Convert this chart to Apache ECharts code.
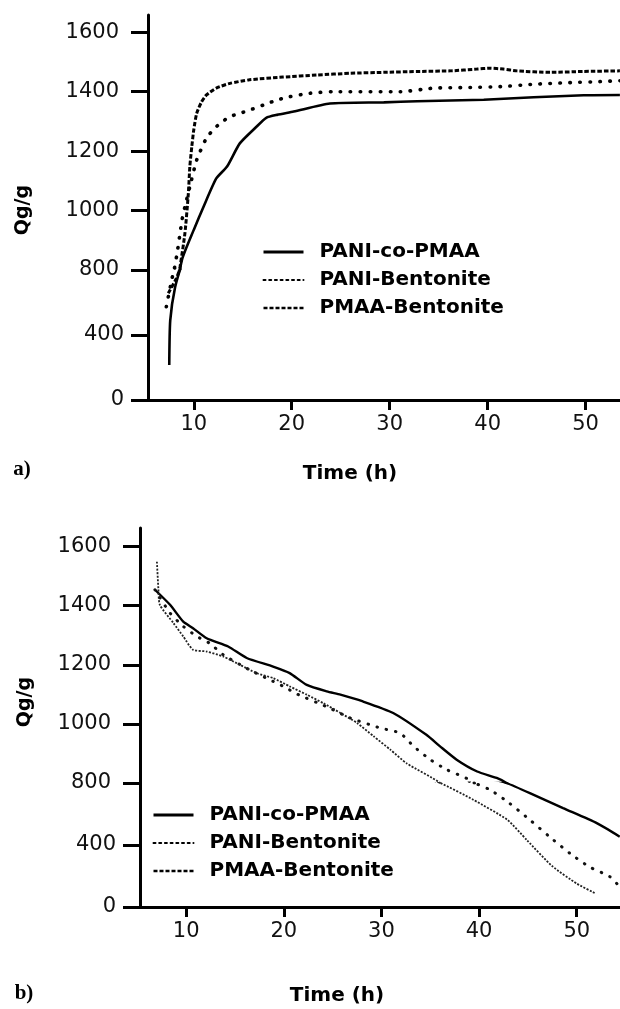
<!DOCTYPE html>
<html>
<head>
<meta charset="utf-8">
<script src="https://cdn.jsdelivr.net/npm/echarts@6/dist/echarts.min.js"></script>
<style>
  html, body { margin: 0; padding: 0; background: #fff; }
  #chart { width: 620px; height: 1009px; }
</style>
</head>
<body>
<div id="chart"></div>
<script>
// panel a) Qg/g against time (h)
const aPaniCoPmaa = [[7.5, 215], [7.6, 490], [8.1, 695], [8.8, 835], [10.0, 935], [11.0, 1013], [12.3, 1108],
  [13.4, 1148], [14.7, 1226], [16.4, 1282], [17.4, 1312], [18.5, 1322], [20.2, 1333], [23.9, 1360],
  [29.4, 1364], [32.8, 1368], [39.6, 1373], [44.7, 1381], [49.8, 1388], [53.5, 1389]];
const aPaniBentonite = [[7.2, 574], [7.9, 780], [8.3, 856], [8.6, 923], [8.8, 968], [9.1, 1013], [9.6, 1080],
  [10.3, 1170], [11.2, 1238], [11.8, 1265], [12.7, 1294], [13.7, 1316], [14.7, 1327], [15.7, 1338],
  [17.1, 1355], [18.5, 1372], [19.8, 1383], [21.9, 1395], [24.3, 1400], [31.1, 1400], [34.5, 1412],
  [37.9, 1414], [41.3, 1417], [44.7, 1425], [48.1, 1430], [51.5, 1434], [53.5, 1437]];
const aPmaaBentonite = [[7.4, 657], [8.2, 745], [8.6, 811], [9.1, 924], [9.45, 1058], [9.6, 1148], [9.8, 1215],
  [10.0, 1271], [10.3, 1327], [10.8, 1366], [11.3, 1389], [12.3, 1412], [13.7, 1428], [15.7, 1440],
  [19.1, 1449], [22.6, 1456], [26.0, 1462], [29.4, 1465], [32.8, 1468], [36.2, 1470], [38.9, 1476],
  [40.2, 1479], [41.6, 1476], [43.0, 1470], [46.4, 1465], [49.8, 1468], [53.5, 1470]];

// panel b)
const bPaniCoPmaa = [[6.8, 1454], [8.35, 1403], [9.7, 1346], [10.7, 1324], [12.1, 1290], [14.3, 1262],
  [16.2, 1223], [18.9, 1194], [20.6, 1172], [22.35, 1132], [24.4, 1110], [25.8, 1099], [28.1, 1076],
  [31.2, 1037], [34.6, 963], [36.0, 924], [37.7, 879], [39.8, 839], [41.8, 817], [42.8, 800],
  [45.2, 735], [48.6, 638], [52.05, 541], [54.4, 454]];
const bPaniBentonite = [[6.8, 1454], [8.35, 1375], [9.7, 1330], [11.1, 1296], [12.4, 1273], [13.8, 1234],
  [16.5, 1183], [18.9, 1144], [20.3, 1121], [21.15, 1104], [24.6, 1055], [26.8, 1020], [29.9, 986],
  [31.9, 969], [33.3, 924], [35.0, 879], [36.7, 845], [39.0, 811], [41.1, 757], [43.1, 670],
  [45.2, 562], [47.2, 454], [49.3, 346], [51.3, 259], [53.4, 195], [54.4, 130]];
const bPmaaBentonite = [[7.0, 1549], [7.15, 1459], [7.3, 1403], [8.7, 1341], [9.7, 1296], [10.7, 1251],
  [12.1, 1245], [13.8, 1228], [15.5, 1200], [17.2, 1172], [18.9, 1155], [20.6, 1127], [22.35, 1099],
  [24.05, 1070], [25.8, 1037], [27.5, 1003], [29.2, 958], [30.9, 913], [32.6, 866], [36.0, 800],
  [39.4, 692], [42.9, 562], [44.9, 431], [47.5, 263], [50.0, 151], [51.9, 88]];

const seriesNames = ['PANI-co-PMAA', 'PANI-Bentonite', 'PMAA-Bentonite'];
const timeTicks = [10, 20, 30, 40, 50];
// the printed axis skips 600 and 200, so it is drawn as two stacked scales
const qTicksUpper = [800, 1000, 1200, 1400, 1600];
const qTicksLower = [0, 400];

const chart = echarts.init(document.getElementById('chart'), null, { renderer: 'canvas' });

const labelFont = { color: '#111', fontSize: 21, fontFamily: 'DejaVu Sans', formatter: v => String(v) };
const blackLine = { color: '#000', width: 3 };

function grid(left, top, height) {
  return { left: left, top: top, width: 620 - left, height: height, containLabel: false, outerBoundsMode: 'none' };
}

function xAxis(idx, min, max, show) {
  return {
    type: 'value', gridIndex: idx, min: min, max: max, show: show,
    axisLine: { show: true, onZero: false, lineStyle: blackLine },
    axisTick: { show: true, length: 10, lineStyle: blackLine, customValues: timeTicks },
    axisLabel: Object.assign({ margin: 14, customValues: timeTicks }, labelFont),
    splitLine: { show: false }
  };
}

function yAxis(idx, min, max, ticks, margin) {
  return {
    type: 'value', gridIndex: idx, min: min, max: max,
    axisLine: { show: true, onZero: false, lineStyle: blackLine },
    axisTick: { show: true, length: 17, lineStyle: blackLine, customValues: ticks },
    axisLabel: Object.assign({ margin: margin, customValues: ticks }, labelFont),
    splitLine: { show: false }
  };
}

const aStyles = [
  { color: '#000', width: 2.6, type: 'solid' },
  { color: '#000', width: 3.6, type: [0.5, 9.5], cap: 'round' },
  { color: '#000', width: 3, type: [4.5, 2] }
];
const bStyles = [
  { color: '#000', width: 2.4, type: 'solid' },
  { color: '#111', width: 3, type: [0.5, 9], cap: 'round' },
  { color: '#222', width: 1.8, type: [2, 1.5] }
];

function panelSeries(datasets, styles, idx) {
  return datasets.map((d, i) => ({
    name: seriesNames[i], type: 'line', xAxisIndex: idx, yAxisIndex: idx,
    data: d, symbol: 'none', clip: true, silent: true, animation: false,
    smooth: 0.2,
    lineStyle: styles[i], itemStyle: { color: styles[i].color },
    emphasis: { disabled: true }
  }));
}

const legendLines = [
  { color: '#000', width: 3, type: 'solid' },
  { color: '#000', width: 2, type: [2, 3.7] },
  { color: '#000', width: 2.5, type: [4, 2] }
];

function legend(left, top) {
  return {
    left: left, top: top, orient: 'vertical', padding: 0,
    itemWidth: 40, itemHeight: 14, itemGap: 8, selectedMode: false,
    textStyle: { color: '#000', fontSize: 20, fontWeight: 'bold', fontFamily: 'DejaVu Sans', padding: [0, 0, 0, 11] },
    data: seriesNames.map((n, i) => ({ name: n, lineStyle: legendLines[i], itemStyle: { opacity: 0 } }))
  };
}

function label(text, x, y, font, rot) {
  return {
    type: 'text', x: x, y: y, rotation: rot || 0, silent: true,
    style: { text: text, font: font, fill: '#000', align: 'center', verticalAlign: 'middle',
             textAlign: 'center', textVerticalAlign: 'middle' }
  };
}

const aData = [aPaniCoPmaa, aPaniBentonite, aPmaaBentonite];
const bData = [bPaniCoPmaa, bPaniBentonite, bPmaaBentonite];

chart.setOption({
  animation: false,
  backgroundColor: '#fff',
  grid: [grid(148, 15, 255), grid(148, 270, 130), grid(140, 528, 255), grid(140, 783, 124)],
  xAxis: [
    xAxis(0, 5.33, 53.51, false), xAxis(1, 5.33, 53.51, true),
    xAxis(2, 5.27, 54.43, false), xAxis(3, 5.27, 54.43, true)
  ],
  yAxis: [
    yAxis(0, 800, 1658, qTicksUpper, 29), yAxis(1, 0, 800, qTicksLower, 24),
    yAxis(2, 800, 1663, qTicksUpper, 29), yAxis(3, 0, 800, qTicksLower, 24)
  ],
  legend: [legend(262, 242), legend(152, 805)],
  series: [].concat(
    panelSeries(aData, aStyles, 0), panelSeries(aData, aStyles, 1),
    panelSeries(bData, bStyles, 2), panelSeries(bData, bStyles, 3)
  ),
  graphic: [
    label('Qg/g', 23, 210, 'bold 19px "DejaVu Sans"', Math.PI / 2),
    label('Qg/g', 25, 702, 'bold 19px "DejaVu Sans"', Math.PI / 2),
    label('Time (h)', 350, 474, 'bold 20px "DejaVu Sans"'),
    label('Time (h)', 337, 996, 'bold 20px "DejaVu Sans"'),
    label('a)', 22, 470, 'bold 21px "Liberation Serif"'),
    label('b)', 24, 994, 'bold 21px "Liberation Serif"')
  ]
});
</script>
</body>
</html>
